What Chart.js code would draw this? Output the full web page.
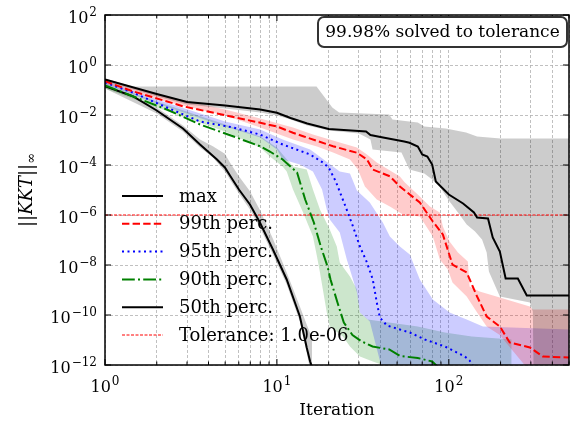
<!DOCTYPE html>
<html>
<head>
<meta charset="utf-8">
<script src="https://cdn.jsdelivr.net/npm/chart.js@4"></script>
<style>
  body{margin:0;background:#fff;}
  #wrap{width:574px;height:424px;position:relative;}
</style>
</head>
<body>
<div id="wrap"><canvas id="myChart"></canvas></div>
<script>
// every pair is [iteration, log10(||KKT||inf)]
const maxLine=[[1,-0.58],[2,-1.16],[3,-1.48],[5,-1.62],[8,-1.78],[10,-1.91],[12,-2.12],[15,-2.34],[20,-2.56],[30,-2.64],[33,-2.66],[35,-2.8],[40,-2.88],[55,-3.06],[59,-3.11],[66,-3.26],[70,-3.58],[75,-3.66],[80,-3.98],[84,-4.66],[100,-5.18],[121,-5.54],[140,-5.9],[146,-6.1],[169,-6.14],[180,-6.9],[198,-7.46],[214,-8.54],[252,-8.54],[284,-9.22],[500,-9.22]];
const maxUp=[[1,-0.54],[1.45,-0.86],[17,-0.86],[19,-1.3],[21,-1.7],[23,-1.9],[45,-1.98],[47,-2.18],[66,-2.3],[72,-2.46],[96,-2.54],[126,-2.7],[146,-2.86],[200,-2.94],[500,-2.94]];
const maxLo=[[1,-0.66],[2,-1.26],[3,-1.58],[5,-1.74],[8,-1.9],[10,-2.02],[12,-2.18],[15,-2.42],[20,-2.62],[30,-2.74],[35,-2.98],[36,-3.38],[53,-3.5],[59,-4.18],[72,-4.34],[80,-4.58],[89,-4.9],[101,-5.46],[113,-5.9],[127,-6.38],[142,-6.66],[156,-6.98],[166,-7.5],[171,-8.26],[198,-9.26],[296,-9.5],[308,-9.86],[312,-13],[500,-13]];

const p99Line=[[1,-0.65],[1.45,-1.05],[2.84,-1.65],[8,-2.31],[10,-2.46],[12.4,-2.71],[14.2,-2.85],[21.2,-3.25],[29.2,-3.51],[33.4,-3.78],[36.1,-4.18],[45.4,-4.45],[51.9,-4.86],[67.8,-5.5],[80.7,-6.26],[92.3,-6.78],[105,-7.98],[127,-8.3],[146,-9.26],[166,-10.06],[198,-10.46],[226,-11.1],[296,-11.3],[352,-11.66],[500,-11.7]];
const p99Up=[[1,-0.54],[2,-1.18],[5,-1.78],[8,-2.14],[12.4,-2.5],[16.2,-2.78],[23.2,-3.1],[29.2,-3.3],[33.4,-3.58],[38.1,-3.9],[51.9,-4.46],[55.5,-4.7],[67.8,-5.26],[77.6,-5.66],[88.6,-5.9],[92.3,-6.46],[101,-7.06],[113,-7.5],[129,-7.86],[132,-8.86],[151,-9.06],[198,-9.3],[296,-9.66],[308,-9.78],[500,-9.78]];
const p99Lo=[[1,-0.74],[2,-1.38],[5,-2.02],[8,-2.5],[12.4,-2.98],[17.1,-3.26],[21.2,-3.5],[26.6,-3.78],[29.6,-4.18],[32.5,-4.86],[38.1,-5.38],[45.4,-5.66],[54,-5.98],[67.8,-6.06],[80.7,-6.86],[88.6,-7.78],[98.7,-8.18],[105,-8.7],[127,-9.26],[146,-9.9],[166,-10.46],[198,-10.8],[240,-11.5],[300,-12.3],[500,-13]];

const p95Line=[[1,-0.7],[1.45,-1.1],[2.29,-1.7],[3.57,-2.26],[5.55,-2.5],[7.96,-2.78],[10.8,-3.18],[15.6,-3.58],[18.5,-3.9],[20,-4.1],[22,-4.66],[25.2,-5.7],[27.7,-6.46],[30.4,-7.26],[33.4,-7.9],[36.1,-8.58],[38.1,-9.5],[39.7,-10.1],[43.6,-10.42],[51.9,-10.58],[59.3,-10.7],[72.5,-10.98],[94.8,-11.26],[124,-11.66],[132,-11.82],[140,-12.1]];
const p95Up=[[1,-0.62],[2,-1.38],[5,-2.26],[8,-2.58],[10.8,-2.98],[15.6,-3.38],[17.1,-3.58],[21.2,-4.06],[23.2,-4.26],[26.6,-4.34],[29.2,-5.02],[34.7,-5.5],[41.3,-6.3],[45.4,-6.86],[51.9,-7.26],[59.3,-7.58],[67.8,-8.58],[80.7,-9.38],[101,-9.9],[127,-10.18],[158,-10.46],[500,-10.58]];
const p95Lo=[[1,-0.78],[2,-1.54],[5,-2.46],[8,-2.9],[10,-3.38],[10.8,-3.78],[13.6,-3.98],[16.2,-4.26],[18.3,-4.98],[19.5,-5.78],[20.3,-6.18],[23.2,-6.7],[25.5,-7.78],[27.7,-8.58],[29.2,-9.1],[30.4,-9.9],[34.7,-10.26],[40.3,-12],[42.5,-13],[500,-13]];

const p90Line=[[1,-0.82],[1.45,-1.25],[2.29,-1.78],[3.57,-2.38],[5.55,-2.85],[7.96,-3.25],[9.1,-3.46],[10.8,-3.78],[13.1,-4.3],[14.6,-5.38],[16.4,-6.3],[18,-7.26],[19.7,-8.06],[20.5,-8.58],[22.5,-9.5],[24.5,-10.3],[27.5,-10.8],[31,-11.05],[36,-11.26],[45,-11.38],[52,-11.64],[66,-11.72],[80,-11.86],[84,-12],[89,-12.2]];
const p90Up=[[1,-0.7],[2,-1.46],[5,-2.38],[8,-2.86],[10,-3.3],[10.8,-3.58],[12.4,-4.06],[14.9,-4.18],[16.2,-4.98],[17.8,-5.78],[20.3,-6.58],[22.3,-7.26],[23.2,-7.9],[26.6,-8.46],[29.2,-8.98],[30.4,-9.9],[33.8,-10.18],[66,-10.46],[94.8,-10.7],[136,-10.86],[232,-10.98]];
const p90Lo=[[1,-0.94],[2,-1.7],[5,-2.66],[8,-3.3],[9.1,-3.66],[10.8,-4.06],[11.4,-4.26],[12.4,-4.98],[14.2,-5.9],[16.2,-6.86],[17.1,-7.66],[17.8,-8.3],[18.5,-8.98],[19.5,-9.9],[20.3,-10.46],[24.2,-10.86],[26.6,-11.26],[30.4,-11.66],[36.1,-11.86],[41.3,-12],[45.4,-13],[232,-13]];

const p50Line=[[1,-0.85],[1.45,-1.25],[2,-1.82],[2.84,-2.54],[3.57,-3.18],[4.48,-3.78],[4.98,-4.1],[5.33,-4.42],[6.01,-4.98],[6.97,-5.58],[7.96,-6.3],[9.48,-7.38],[11.4,-8.58],[13.6,-10.06],[14.9,-11.3],[15.6,-11.86],[16.4,-12.3]];
const p50Up=[[1,-0.74],[2,-1.7],[2.84,-2.42],[3.57,-2.98],[4.24,-3.25],[4.98,-3.55],[5.33,-3.9],[6.01,-4.45],[6.97,-5.05],[7.96,-5.8],[9.48,-6.95],[11.4,-8.3],[13.6,-9.66],[14.9,-10.38],[16.4,-11.1],[20,-11.46],[30,-11.78],[35.2,-12.02],[39.7,-13]];
const p50Lo=[[1,-0.94],[2,-1.94],[2.84,-2.66],[3.57,-3.3],[4.24,-3.7],[4.98,-4.26],[5.33,-4.58],[6.01,-5.14],[6.97,-5.78],[7.96,-6.5],[9.48,-7.58],[11.4,-8.78],[13.6,-10.26],[14.9,-11.5],[15.4,-12],[16,-13]];

const tolerance=1e-6;
const solvedText='99.98% solved to tolerance';
const legendLabels=['max','99th perc.','95th perc.','90th perc.','50th perc.','Tolerance: 1.0e-06'];
const xTickVals=[1,2,3,4,5,6,7,8,9,10,20,30,40,50,60,70,80,90,100,200,300,400,500];
const yTickVals=[1e-12,1e-10,1e-8,1e-6,1e-4,1e-2,1,1e2];

const FONT='DejaVu Serif';

function toPts(arr){
    return arr.map(function(p){ return {x:p[0], y:Math.pow(10,p[1])}; });
}
// exponent of a power of ten, or null
function powExp(v){
    var e=Math.round(Math.log10(v));
    if(Math.abs(Math.log10(v)-e)>1e-6) return null;
    return e;
}

function band(data,color,target){
    const obj={
        data:toPts(data),
        borderWidth:0,
        pointRadius:0,
        backgroundColor:color,
        fill:target===undefined?false:target,
        order:1,
        clip:0
    };
    return obj;
}
function line(data,color,dash,width){
    return {
        data:toPts(data),
        borderColor:color,
        borderWidth:width||2,
        borderDash:dash,
        pointRadius:0,
        fill:false,
        order:0,
        clip:0
    };
}

const gray='rgba(0,0,0,0.2)';
const datasets=[
    band(maxUp,gray),                         // 0
    band(maxLo,gray,0),                       // 1
    band(p99Up,'rgba(255,0,0,0.2)'),          // 2
    band(p99Lo,'rgba(255,0,0,0.2)',2),        // 3
    band(p95Up,'rgba(0,0,255,0.2)'),          // 4
    band(p95Lo,'rgba(0,0,255,0.2)',4),        // 5
    band(p90Up,'rgba(0,128,0,0.2)'),          // 6
    band(p90Lo,'rgba(0,128,0,0.2)',6),        // 7
    band(p50Up,gray),                         // 8
    band(p50Lo,gray,8),                       // 9
    line(maxLine,'black',[]),
    line(p99Line,'red',[7.4,3.2]),
    line(p95Line,'blue',[2,3.5]),
    line(p90Line,'green',[12.8,3.2,2,3.2]),
    line(p50Line,'black',[]),
    line([[1,Math.log10(tolerance)],[500,Math.log10(tolerance)]],'#f00',[3,1.5],1)
];
const legendSets=datasets.slice(10);

function strokeLine(ctx,x1,y1,x2,y2){
    ctx.beginPath(); ctx.moveTo(x1,y1); ctx.lineTo(x2,y2); ctx.stroke();
}

// "10" with a raised exponent; anchor: 'center' (x axis) or 'right' (y axis)
function drawPow(ctx,e,x,y,anchor){
    const base='10', ex=String(e).replace('-','\u2212');
    ctx.font='16px "'+FONT+'"';
    const wb=ctx.measureText(base).width;
    ctx.font='12px "'+FONT+'"';
    const we=ctx.measureText(ex).width;
    const w=wb+we+1;
    const x0=anchor==='right'?x-w:x-w/2;
    ctx.textAlign='left';
    ctx.textBaseline='alphabetic';
    ctx.font='16px "'+FONT+'"';
    ctx.fillText(base,x0,y);
    ctx.font='12px "'+FONT+'"';
    ctx.fillText(ex,x0+wb+1,y-7);
}

// frame, inward ticks, tick labels, legend, note box and y title
const overlay={
    id:'overlay',
    afterDraw(chart){
        const ctx=chart.ctx, a=chart.chartArea, xs=chart.scales.x, ys=chart.scales.y;
        ctx.save();
        ctx.strokeStyle='black';
        ctx.fillStyle='black';
        ctx.setLineDash([]);
        ctx.lineWidth=1;
        xTickVals.forEach(function(v){
            const px=xs.getPixelForValue(v);
            const e=powExp(v);
            const len=e!==null?6:3.5;
            strokeLine(ctx,px,a.bottom,px,a.bottom-len);
            strokeLine(ctx,px,a.top,px,a.top+len);
            if(e!==null) drawPow(ctx,e,px,a.bottom+27,'center');
        });
        yTickVals.forEach(function(v){
            const py=ys.getPixelForValue(v);
            strokeLine(ctx,a.left,py,a.left+6,py);
            strokeLine(ctx,a.right,py,a.right-6,py);
            drawPow(ctx,powExp(v),a.left-8,py+8,'right');
        });
        ctx.lineWidth=1.5;
        ctx.strokeRect(a.left,a.top,a.right-a.left,a.bottom-a.top);

        // legend
        ctx.font='18px "'+FONT+'"';
        ctx.textBaseline='middle';
        ctx.textAlign='left';
        legendSets.forEach(function(ds,i){
            const y=a.top+181+i*27.8;
            ctx.strokeStyle=ds.borderColor;
            ctx.lineWidth=ds.borderWidth;
            ctx.setLineDash(ds.borderDash);
            strokeLine(ctx,a.left+17,y,a.left+58,y);
            ctx.setLineDash([]);
            ctx.fillStyle='black';
            ctx.fillText(legendLabels[i],a.left+74,y+1);
        });

        // note box
        const bx=318,by=17,bw=249,bh=30,r=6;
        ctx.beginPath();
        ctx.moveTo(bx+r,by);
        ctx.arcTo(bx+bw,by,bx+bw,by+bh,r);
        ctx.arcTo(bx+bw,by+bh,bx,by+bh,r);
        ctx.arcTo(bx,by+bh,bx,by,r);
        ctx.arcTo(bx,by,bx+bw,by,r);
        ctx.closePath();
        ctx.fillStyle='white';
        ctx.fill();
        ctx.strokeStyle='#333';
        ctx.lineWidth=2;
        ctx.stroke();
        ctx.fillStyle='black';
        ctx.textAlign='center';
        ctx.font='17px "'+FONT+'"';
        ctx.fillText(solvedText,bx+bw/2,by+bh/2+1);

        // y title  ||KKT||_inf
        const parts=[
            {t:'||',f:'18px "'+FONT+'"',dy:0},
            {t:'KKT',f:'italic 18px "'+FONT+'"',dy:0},
            {t:'||',f:'18px "'+FONT+'"',dy:0},
            {t:'∞',f:'13px "'+FONT+'"',dy:5}
        ];
        let total=0;
        parts.forEach(function(p){ ctx.font=p.f; p.w=ctx.measureText(p.t).width; total+=p.w; });
        ctx.translate(27,(a.top+a.bottom)/2);
        ctx.rotate(-Math.PI/2);
        ctx.textAlign='left';
        let x=-total/2;
        parts.forEach(function(p){ ctx.font=p.f; ctx.fillText(p.t,x,p.dy); x+=p.w; });
        ctx.restore();
    }
};

const config={
    type:'line',
    data:{datasets:datasets},
    options:{
        responsive:true,
        maintainAspectRatio:false,
        animation:false,
        layout:{padding:{top:15,right:5,left:0,bottom:0}},
        plugins:{legend:{display:false},tooltip:{enabled:false}},
        scales:{
            x:{
                type:'logarithmic',
                min:1,max:500,
                afterBuildTicks:function(s){ s.ticks=xTickVals.map(function(v){return {value:v};}); },
                afterFit:function(s){ s.height=59; },
                ticks:{display:false},
                grid:{color:'#b0b0b0',lineWidth:0.8,drawTicks:false},
                border:{display:false,dash:[3,2]},
                title:{display:true,text:'Iteration',color:'black',font:{family:FONT,size:17},padding:{top:0,bottom:3}}
            },
            y:{
                type:'logarithmic',
                min:1e-12,max:1e2,
                afterBuildTicks:function(s){ s.ticks=yTickVals.map(function(v){return {value:v};}); },
                afterFit:function(s){ s.width=105; },
                ticks:{display:false},
                grid:{color:'#b0b0b0',lineWidth:0.8,drawTicks:false},
                border:{display:false,dash:[3,2]}
            }
        }
    },
    plugins:[overlay]
};

const myChart=new Chart(document.getElementById('myChart'),config);
</script>
</body>
</html>
